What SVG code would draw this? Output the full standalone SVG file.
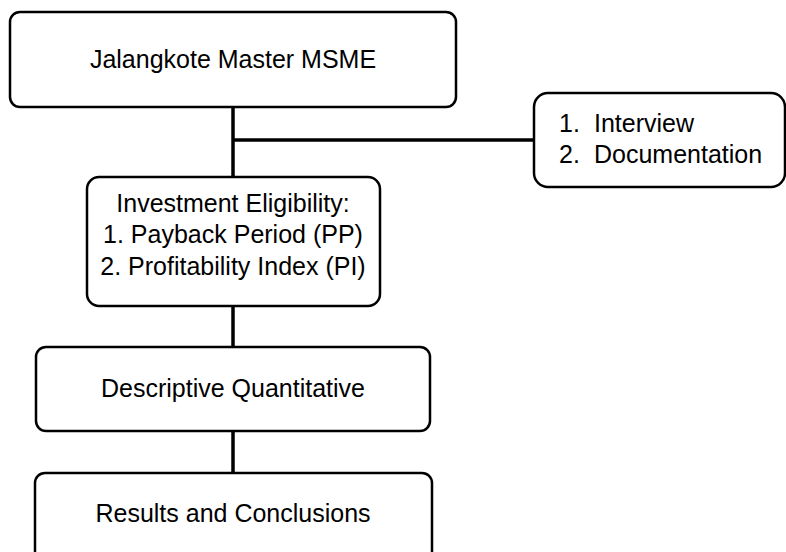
<svg xmlns="http://www.w3.org/2000/svg" width="786" height="552" viewBox="0 0 786 552">
<style>
.box{fill:#fff;stroke:#000;stroke-width:2.5}
.t{font-family:"Liberation Sans",Arial,sans-serif;font-size:25px;fill:#000}
.c{text-anchor:middle}
.ln{stroke:#000;stroke-width:3.5;fill:none}
</style>
<rect width="786" height="552" fill="#fff"/>
<g id="connectors">
<line class="ln" x1="233" y1="107" x2="233" y2="177"/>
<line class="ln" x1="233" y1="140" x2="534" y2="140"/>
<line class="ln" x1="233" y1="306" x2="233" y2="347"/>
<line class="ln" x1="233" y1="431" x2="233" y2="473"/>
</g>
<g id="n1">
<rect class="box" x="10" y="12" width="446" height="95" rx="10"/>
<text class="t c" x="233" y="68">Jalangkote Master MSME</text>
</g>
<g id="n2">
<rect class="box" x="534" y="93" width="251" height="94" rx="14"/>
<text class="t" x="559" y="132">1.</text>
<text class="t" x="594" y="132">Interview</text>
<text class="t" x="559" y="163">2.</text>
<text class="t" x="594" y="163">Documentation</text>
</g>
<g id="n3">
<rect class="box" x="87" y="177" width="293" height="129" rx="12"/>
<text class="t c" x="233" y="212">Investment Eligibility:</text>
<text class="t c" x="233" y="243">1. Payback Period (PP)</text>
<text class="t c" x="233" y="275">2. Profitability Index (PI)</text>
</g>
<g id="n4">
<rect class="box" x="36" y="347" width="394" height="84" rx="10"/>
<text class="t c" x="233" y="397">Descriptive Quantitative</text>
</g>
<g id="n5">
<rect class="box" x="35" y="473" width="397" height="95" rx="10"/>
<text class="t c" x="233" y="522">Results and Conclusions</text>
</g>
</svg>
